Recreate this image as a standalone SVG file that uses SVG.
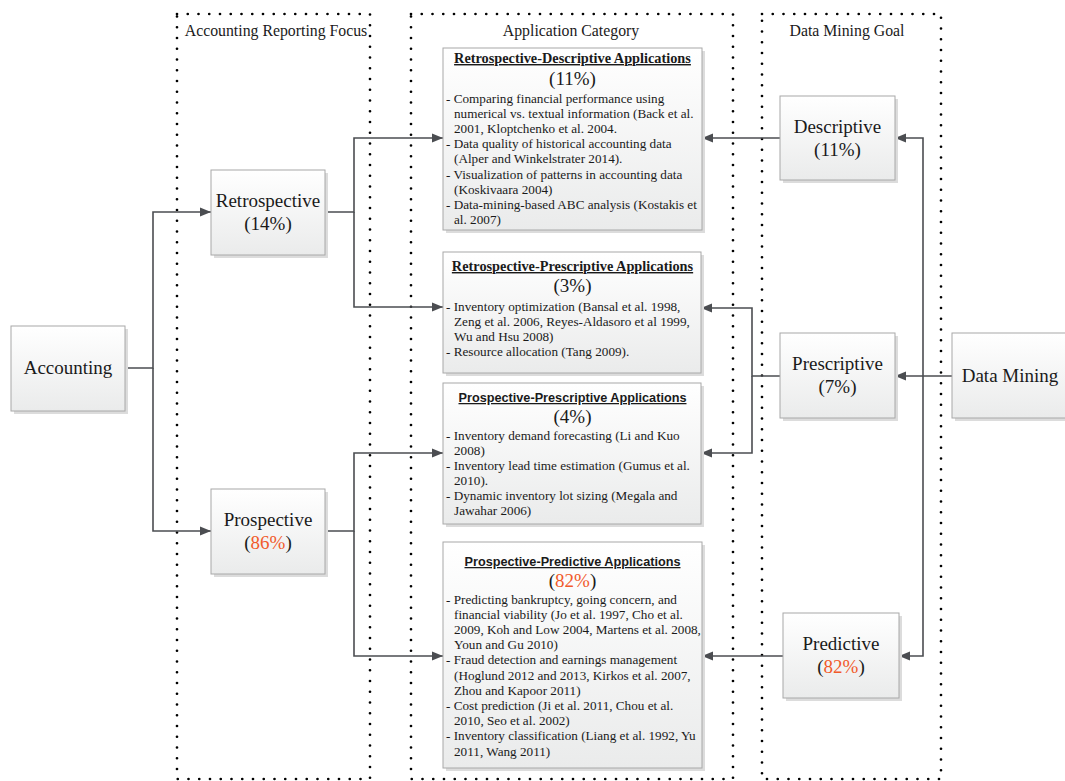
<svg xmlns="http://www.w3.org/2000/svg" width="1065" height="781" viewBox="0 0 1065 781">
<defs>
<linearGradient id="g" x1="0" y1="0" x2="0" y2="1">
<stop offset="0" stop-color="#ffffff"/>
<stop offset="1" stop-color="#eaebeb"/>
</linearGradient>
<marker id="ah" markerUnits="userSpaceOnUse" markerWidth="11" markerHeight="10" viewBox="0 0 11 10" refX="11" refY="5" orient="auto">
<path d="M0,0.5 L11,5 L0,9.5 z" fill="#4b4d51"/>
</marker>
</defs>
<style>
.cont{fill:none;stroke:#000;stroke-width:2.7;stroke-linecap:round;stroke-dasharray:0 10.75}
.sh{fill:#dcdcdc}
.bx{fill:url(#g);stroke:#a8a8a8;stroke-width:1}
.ct{font-family:"Liberation Serif",serif;font-size:15.8px;fill:#1a1a1a;text-anchor:middle}
.nt{font-family:"Liberation Serif",serif;font-size:19px;fill:#1a1a1a;text-anchor:middle}
.or{fill:#f15a2b}
.tt{font-family:"Liberation Serif",serif;font-size:14.3px;font-weight:bold;fill:#1a1a1a;text-anchor:middle;text-decoration:underline}
.ts{font-family:"Liberation Sans",sans-serif;font-size:12.7px;font-weight:bold;fill:#1a1a1a;text-anchor:middle;text-decoration:underline}
.pc{font-family:"Liberation Serif",serif;font-size:19px;fill:#1a1a1a;text-anchor:middle}
.bd{font-family:"Liberation Serif",serif;font-size:13.2px;fill:#1a1a1a}
.cn{fill:none;stroke:#4b4d51;stroke-width:1.6}
</style>

<g id="containers">
<rect class="cont" x="177" y="14" width="193" height="765"/>
<rect class="cont" x="411" y="14" width="322" height="765"/>
<rect class="cont" x="762" y="14" width="179" height="765"/>
<text class="ct" x="276" y="36">Accounting Reporting Focus</text>
<text class="ct" x="571" y="36">Application Category</text>
<text class="ct" x="847" y="36">Data Mining Goal</text>
</g>

<g id="connectors">
<path class="cn" d="M125,368 H153 V212 H211" marker-end="url(#ah)"/>
<path class="cn" d="M153,368 V531 H211" marker-end="url(#ah)"/>
<path class="cn" d="M325,212 H354 V138 H443" marker-end="url(#ah)"/>
<path class="cn" d="M354,212 V307 H443" marker-end="url(#ah)"/>
<path class="cn" d="M325,531 H354 V453 H443" marker-end="url(#ah)"/>
<path class="cn" d="M354,531 V656 H443" marker-end="url(#ah)"/>
<path class="cn" d="M952,376 H895" marker-end="url(#ah)"/>
<path class="cn" d="M923,376 V138 H895" marker-end="url(#ah)"/>
<path class="cn" d="M923,376 V656 H899" marker-end="url(#ah)"/>
<path class="cn" d="M780,138 H702" marker-end="url(#ah)"/>
<path class="cn" d="M780,376 H752 V308 H701" marker-end="url(#ah)"/>
<path class="cn" d="M752,376 V453 H701" marker-end="url(#ah)"/>
<path class="cn" d="M783,656 H702" marker-end="url(#ah)"/>
</g>

<g id="accounting">
<rect class="sh" x="14" y="329" width="114" height="85"/>
<rect class="bx" x="11" y="326" width="114" height="85"/>
<text class="nt" x="68" y="374">Accounting</text>
</g>

<g id="retrospective">
<rect class="sh" x="214" y="173" width="114" height="85"/>
<rect class="bx" x="211" y="170" width="114" height="85"/>
<text class="nt" x="268" y="207">Retrospective</text>
<text class="nt" x="268" y="230">(14%)</text>
</g>

<g id="prospective">
<rect class="sh" x="214" y="492" width="114" height="85"/>
<rect class="bx" x="211" y="489" width="114" height="85"/>
<text class="nt" x="268" y="526">Prospective</text>
<text class="nt" x="268" y="549">(<tspan class="or">86%</tspan>)</text>
</g>

<g id="descriptive">
<rect class="sh" x="783" y="99" width="115" height="84"/>
<rect class="bx" x="780" y="96" width="115" height="84"/>
<text class="nt" x="837.5" y="133">Descriptive</text>
<text class="nt" x="837.5" y="156">(11%)</text>
</g>

<g id="prescriptive">
<rect class="sh" x="783" y="336" width="115" height="85"/>
<rect class="bx" x="780" y="333" width="115" height="85"/>
<text class="nt" x="837.5" y="370">Prescriptive</text>
<text class="nt" x="837.5" y="393">(7%)</text>
</g>

<g id="data-mining">
<rect class="sh" x="955" y="336" width="120" height="85"/>
<rect class="bx" x="952" y="333" width="120" height="85"/>
<text class="nt" x="1010" y="382">Data Mining</text>
</g>

<g id="predictive">
<rect class="sh" x="786" y="616" width="116" height="85"/>
<rect class="bx" x="783" y="613" width="116" height="85"/>
<text class="nt" x="841" y="650">Predictive</text>
<text class="nt" x="841" y="673">(<tspan class="or">82%</tspan>)</text>
</g>

<g id="retro-descriptive">
<rect class="sh" x="446" y="51" width="259" height="182"/>
<rect class="bx" x="443" y="48" width="259" height="182"/>
<text class="tt" x="572.5" y="63">Retrospective-Descriptive Applications</text>
<text class="pc" x="572.5" y="85">(11%)</text>
<text class="bd" x="446" y="102.5">- Comparing financial performance using</text>
<text class="bd" x="454" y="117.7">numerical vs. textual information (Back et al.</text>
<text class="bd" x="454" y="132.9">2001, Kloptchenko et al. 2004.</text>
<text class="bd" x="446" y="148.1">- Data quality of historical accounting data</text>
<text class="bd" x="454" y="163.3">(Alper and Winkelstrater 2014).</text>
<text class="bd" x="446" y="178.5">- Visualization of patterns in accounting data</text>
<text class="bd" x="454" y="193.7">(Koskivaara 2004)</text>
<text class="bd" x="446" y="208.9">- Data-mining-based ABC analysis (Kostakis et</text>
<text class="bd" x="454" y="224.1">al. 2007)</text>
</g>

<g id="retro-prescriptive">
<rect class="sh" x="446" y="255" width="258" height="121"/>
<rect class="bx" x="443" y="252" width="258" height="121"/>
<text class="tt" x="572.5" y="271">Retrospective-Prescriptive Applications</text>
<text class="pc" x="572.5" y="292">(3%)</text>
<text class="bd" x="446" y="310.5">- Inventory optimization (Bansal et al. 1998,</text>
<text class="bd" x="454" y="325.7">Zeng et al. 2006, Reyes-Aldasoro et al 1999,</text>
<text class="bd" x="454" y="340.9">Wu and Hsu 2008)</text>
<text class="bd" x="446" y="356.1">- Resource allocation (Tang 2009).</text>
</g>

<g id="pro-prescriptive">
<rect class="sh" x="446" y="386" width="258" height="141"/>
<rect class="bx" x="443" y="383" width="258" height="141"/>
<text class="ts" x="572.5" y="402">Prospective-Prescriptive Applications</text>
<text class="pc" x="572.5" y="423">(4%)</text>
<text class="bd" x="446" y="439.5">- Inventory demand forecasting (Li and Kuo</text>
<text class="bd" x="454" y="454.5">2008)</text>
<text class="bd" x="446" y="469.5">- Inventory lead time estimation (Gumus et al.</text>
<text class="bd" x="454" y="484.5">2010).</text>
<text class="bd" x="446" y="499.5">- Dynamic inventory lot sizing (Megala and</text>
<text class="bd" x="454" y="514.5">Jawahar 2006)</text>
</g>

<g id="pro-predictive">
<rect class="sh" x="446" y="545" width="259" height="226"/>
<rect class="bx" x="443" y="542" width="259" height="226"/>
<text class="ts" x="572.5" y="566">Prospective-Predictive Applications</text>
<text class="pc" x="572.5" y="587">(<tspan class="or">82%</tspan>)</text>
<text class="bd" x="446" y="603.5">- Predicting bankruptcy, going concern, and</text>
<text class="bd" x="454" y="618.7">financial viability (Jo et al. 1997, Cho et al.</text>
<text class="bd" x="454" y="633.9">2009, Koh and Low 2004, Martens et al. 2008,</text>
<text class="bd" x="454" y="649.1">Youn and Gu 2010)</text>
<text class="bd" x="446" y="664.3">- Fraud detection and earnings management</text>
<text class="bd" x="454" y="679.5">(Hoglund 2012 and 2013, Kirkos et al. 2007,</text>
<text class="bd" x="454" y="694.7">Zhou and Kapoor 2011)</text>
<text class="bd" x="446" y="709.9">- Cost prediction (Ji et al. 2011, Chou et al.</text>
<text class="bd" x="454" y="725.1">2010, Seo et al. 2002)</text>
<text class="bd" x="446" y="740.3">- Inventory classification (Liang et al. 1992, Yu</text>
<text class="bd" x="454" y="755.5">2011, Wang 2011)</text>
</g>
</svg>
